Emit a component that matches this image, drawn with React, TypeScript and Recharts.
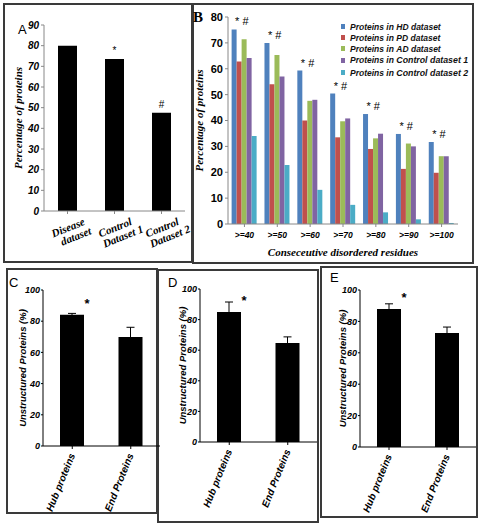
import React from 'react';
import { BarChart, Bar, XAxis, YAxis, LabelList, ErrorBar, Legend } from 'recharts';

// Panel A
const datasetNames = ['Disease dataset', 'Control Dataset 1', 'Control Dataset 2'];
const datasetValues = [80, 73.5, 47.5];
const datasetMarks = ['', '*', '#'];
const datasetTicks = [0, 10, 20, 30, 40, 50, 60, 70, 80, 90];

// Panel B
const residueBins = ['>=40', '>=50', '>=60', '>=70', '>=80', '>=90', '>=100'];
const hdValues = [75.2, 70, 59.3, 50.4, 42.5, 34.8, 31.7];
const pdValues = [62.8, 54, 40, 33.5, 29, 21.3, 19.8];
const adValues = [71.4, 65.3, 47.6, 39.7, 33.1, 31.1, 26.2];
const control1Values = [64.2, 57, 48, 40.8, 34.9, 30, 26.2];
const control2Values = [34, 22.8, 13.2, 7.4, 4.5, 1.8, 0.4];
const binMarks = ['* #', '* #', '* #', '* #', '* #', '* #', '* #'];
const residueTicks = [0, 10, 20, 30, 40, 50, 60, 70, 80];
const seriesKeys = ['hd', 'pd', 'ad', 'c1', 'c2'];
const seriesNames = ['HD dataset', 'PD dataset', 'AD dataset', 'Control dataset 1', 'Control dataset 2'];
const seriesColors = ['#4f81bd', '#c0504d', '#9bbb59', '#8064a2', '#4bacc6'];

// Panels C, D, E
const proteinGroups = ['Hub proteins', 'End Proteins'];
const cValues = [84.2, 69.8];
const cErrors = [0.8, 6.3];
const dValues = [85, 64.7];
const dErrors = [6.5, 4];
const eValues = [87.9, 72.6];
const eErrors = [3.3, 3.8];
const hubMarks = ['*', ''];
const percentTicks = [0, 20, 40, 60, 80, 100];

const SANS = 'Liberation Sans, Arial, sans-serif';
const NARROW = 'Liberation Sans Narrow, Liberation Sans, Arial, sans-serif';
const SERIF = 'Liberation Serif, Times New Roman, serif';

const datasetData = datasetNames.map((name, i) => ({
  name,
  value: datasetValues[i],
  mark: datasetMarks[i],
}));

const residueData = residueBins.map((name, i) => ({
  name,
  hd: hdValues[i],
  pd: pdValues[i],
  ad: adValues[i],
  c1: control1Values[i],
  c2: control2Values[i],
  mark: binMarks[i],
}));

const frameStyle = (left: number, top: number, width: number, height: number): React.CSSProperties => ({
  position: 'absolute',
  left,
  top,
  width,
  height,
  border: '2px solid #3a3a3a',
  boxSizing: 'border-box',
});

const letterStyle = (left: number, top: number, extra: React.CSSProperties = {}): React.CSSProperties => ({
  position: 'absolute',
  left,
  top,
  fontFamily: SANS,
  fontSize: 13,
  lineHeight: 1,
  color: '#000',
  ...extra,
});

function DatasetTick({ x, y, payload }: any) {
  const [first, ...rest] = String(payload.value).split(' ');
  return (
    <g transform={`translate(${x + 2},${y + 15}) rotate(-22)`}>
      <text textAnchor="middle" fontFamily={SERIF} fontStyle="italic" fontWeight="bold" fontSize={11} fill="#000">
        <tspan x={0} dy={0}>{first}</tspan>
        <tspan x={4} dy={11}>{rest.join(' ')}</tspan>
      </text>
    </g>
  );
}

function BinTick({ x, y, payload }: any) {
  return (
    <text x={x} y={y + 9} textAnchor="middle" fontFamily={NARROW} fontStyle="italic" fontWeight="bold" fontSize={8.5} fill="#000">
      {payload.value}
    </text>
  );
}

function GroupTick({ x, y, payload }: any) {
  return (
    <text
      x={x + 3}
      y={y + 4}
      transform={`rotate(-68, ${x + 3}, ${y + 4})`}
      textAnchor="end"
      fontFamily={SANS}
      fontStyle="italic"
      fontWeight="bold"
      fontSize={10}
      fill="#000"
    >
      {payload.value}
    </text>
  );
}

function SeriesLegend() {
  return (
    <div style={{ fontFamily: NARROW, fontStyle: 'italic', fontWeight: 'bold', color: '#111' }}>
      {seriesNames.map((name, i) => {
        const isControl = name.startsWith('Control');
        return (
          <div key={name} style={{ display: 'flex', alignItems: 'center', height: isControl ? 12.5 : 11, whiteSpace: 'nowrap' }}>
            <span style={{ display: 'inline-block', flexShrink: 0, width: 4, height: 5, background: seriesColors[i], marginRight: 5 }} />
            <span style={{ fontSize: 8.5 }}>Proteins in&nbsp;</span>
            <span style={{ fontSize: isControl ? 8.8 : 8.5 }}>{name}</span>
          </div>
        );
      })}
    </div>
  );
}

type PanelProps = {
  left: number;
  top: number;
  width: number;
  height: number;
  plotLeft: number;
  plotTop: number;
  plotRight: number;
  plotBottom: number;
  titleX: number;
  values: number[];
  errors: number[];
};

function ProteinPanel(p: PanelProps) {
  const data = proteinGroups.map((name, i) => ({ name, value: p.values[i], err: p.errors[i], mark: hubMarks[i] }));
  return (
    <div style={{ position: 'absolute', left: p.left, top: p.top }}>
      <BarChart
        width={p.width}
        height={p.height}
        data={data}
        margin={{ top: p.plotTop - p.top, right: p.left + p.width - p.plotRight, left: 0, bottom: 0 }}
      >
        <XAxis
          dataKey="name"
          height={p.top + p.height - p.plotBottom}
          tick={<GroupTick />}
          tickSize={3}
          interval={0}
          stroke="#000"
        />
        <YAxis
          width={p.plotLeft - p.left}
          domain={[0, 100]}
          ticks={percentTicks}
          tickSize={2}
          tickMargin={1}
          stroke="#000"
          tick={{ fontFamily: SANS, fontStyle: 'italic', fontWeight: 'bold', fontSize: 9, fill: '#000' }}
          label={(lp: any) => {
            const vb = lp.viewBox;
            return (
              <text
                x={p.titleX - p.left}
                y={vb.y + vb.height / 2}
                transform={`rotate(-90, ${p.titleX - p.left}, ${vb.y + vb.height / 2})`}
                textAnchor="middle"
                fontFamily={SANS}
                fontStyle="italic"
                fontWeight="bold"
                fontSize={9.5}
                fill="#000"
              >
                Unstructured Proteins (%)
              </text>
            );
          }}
        />
        <Bar dataKey="value" fill="#000" barSize={24} isAnimationActive={false}>
          <ErrorBar dataKey="err" width={4} stroke="#000" strokeWidth={1} direction="y" />
          <LabelList
            dataKey="mark"
            content={(lp: any) => (
              <text x={lp.x + lp.width + 3} y={lp.y - 7} textAnchor="middle" fontFamily={SANS} fontWeight="bold" fontSize={13} fill="#000">
                {lp.value}
              </text>
            )}
          />
        </Bar>
      </BarChart>
    </div>
  );
}

export default function App() {
  return (
    <div style={{ position: 'absolute', left: 0, top: 0, width: 481, height: 527, background: '#fff', overflow: 'hidden' }}>
      <div style={frameStyle(3, 3, 190, 260)} />
      <div style={frameStyle(192, 3, 282, 261)} />
      <div style={frameStyle(6, 268, 152, 246)} />
      <div style={frameStyle(157, 269, 162, 254)} />
      <div style={frameStyle(320, 266, 158, 252)} />

      {/* Panel A */}
      <div style={{ position: 'absolute', left: 3, top: 3 }}>
        <BarChart width={190} height={260} data={datasetData} margin={{ top: 22, right: 8, left: 0, bottom: 0 }}>
          <XAxis dataKey="name" height={52} interval={0} tick={<DatasetTick />} tickSize={3} stroke="#888" />
          <YAxis
            width={41}
            domain={[0, 90]}
            ticks={datasetTicks}
            tickSize={3}
            stroke="#888"
            tick={{ fontFamily: SANS, fontStyle: 'italic', fontWeight: 'bold', fontSize: 10, fill: '#000' }}
            label={(lp: any) => {
              const vb = lp.viewBox;
              const cy = vb.y + vb.height / 2;
              return (
                <text x={19} y={cy} transform={`rotate(-90, 19, ${cy})`} textAnchor="middle" fontFamily={SERIF} fontStyle="italic" fontWeight="bold" fontSize={11} fill="#000">
                  Percentage of proteins
                </text>
              );
            }}
          />
          <Bar dataKey="value" fill="#000" barSize={19} isAnimationActive={false}>
            <LabelList
              dataKey="mark"
              content={(lp: any) => (
                <text x={lp.x + lp.width / 2} y={lp.y - 5} textAnchor="middle" fontFamily={SANS} fontSize={10} fill="#000">
                  {lp.value}
                </text>
              )}
            />
          </Bar>
        </BarChart>
      </div>

      {/* Panel B */}
      <div style={{ position: 'absolute', left: 192, top: 3 }}>
        <BarChart
          width={282}
          height={261}
          data={residueData}
          margin={{ top: 14, right: 16, left: 0, bottom: 0 }}
          barGap={0}
          barCategoryGap="11%"
        >
          <XAxis
            dataKey="name"
            height={40}
            interval={0}
            tick={<BinTick />}
            tickSize={3}
            stroke="#888"
            label={(lp: any) => {
              const vb = lp.viewBox;
              return (
                <text x={vb.x + vb.width / 2} y={vb.y + 32} textAnchor="middle" fontFamily={SERIF} fontStyle="italic" fontWeight="bold" fontSize={11} fill="#000">
                  Conseceutive disordered residues
                </text>
              );
            }}
          />
          <YAxis
            width={36}
            domain={[0, 80]}
            ticks={residueTicks}
            tickSize={3}
            stroke="#888"
            tick={{ fontFamily: NARROW, fontWeight: 'bold', fontSize: 11, fill: '#000' }}
            label={(lp: any) => {
              const vb = lp.viewBox;
              const cy = vb.y + vb.height / 2;
              return (
                <text x={11} y={cy} transform={`rotate(-90, 11, ${cy})`} textAnchor="middle" fontFamily={SERIF} fontStyle="italic" fontWeight="bold" fontSize={11} fill="#000">
                  Percentage of proteins
                </text>
              );
            }}
          />
          <Legend
            layout="vertical"
            align="center"
            verticalAlign="middle"
            content={() => <SeriesLegend />}
            wrapperStyle={{ left: 149, top: 18, width: 125 }}
          />
          {seriesKeys.map((key, i) => (
            <Bar key={key} dataKey={key} name={seriesNames[i]} fill={seriesColors[i]} isAnimationActive={false}>
              {i === 0 && (
                <LabelList
                  dataKey="mark"
                  content={(lp: any) => (
                    <text x={lp.x + lp.width / 2 + 1} y={lp.y - 4} textAnchor="start" fontFamily={SANS} fontSize={11} fill="#000">
                      {lp.value}
                    </text>
                  )}
                />
              )}
            </Bar>
          ))}
        </BarChart>
      </div>

      <ProteinPanel left={0} top={268} width={165} height={246} plotLeft={43} plotTop={290} plotRight={160} plotBottom={446} titleX={26} values={cValues} errors={cErrors} />
      <ProteinPanel left={158} top={268} width={162} height={254} plotLeft={200} plotTop={289} plotRight={317} plotBottom={442} titleX={186} values={dValues} errors={dErrors} />
      <ProteinPanel left={320} top={266} width={161} height={252} plotLeft={360} plotTop={290} plotRight={476} plotBottom={447} titleX={346} values={eValues} errors={eErrors} />

      <div style={letterStyle(18, 23)}>A</div>
      <div style={letterStyle(193, 10, { fontFamily: SERIF, fontWeight: 'bold', fontSize: 15 })}>B</div>
      <div style={letterStyle(9, 276)}>C</div>
      <div style={letterStyle(168, 276)}>D</div>
      <div style={letterStyle(330, 271)}>E</div>
    </div>
  );
}
